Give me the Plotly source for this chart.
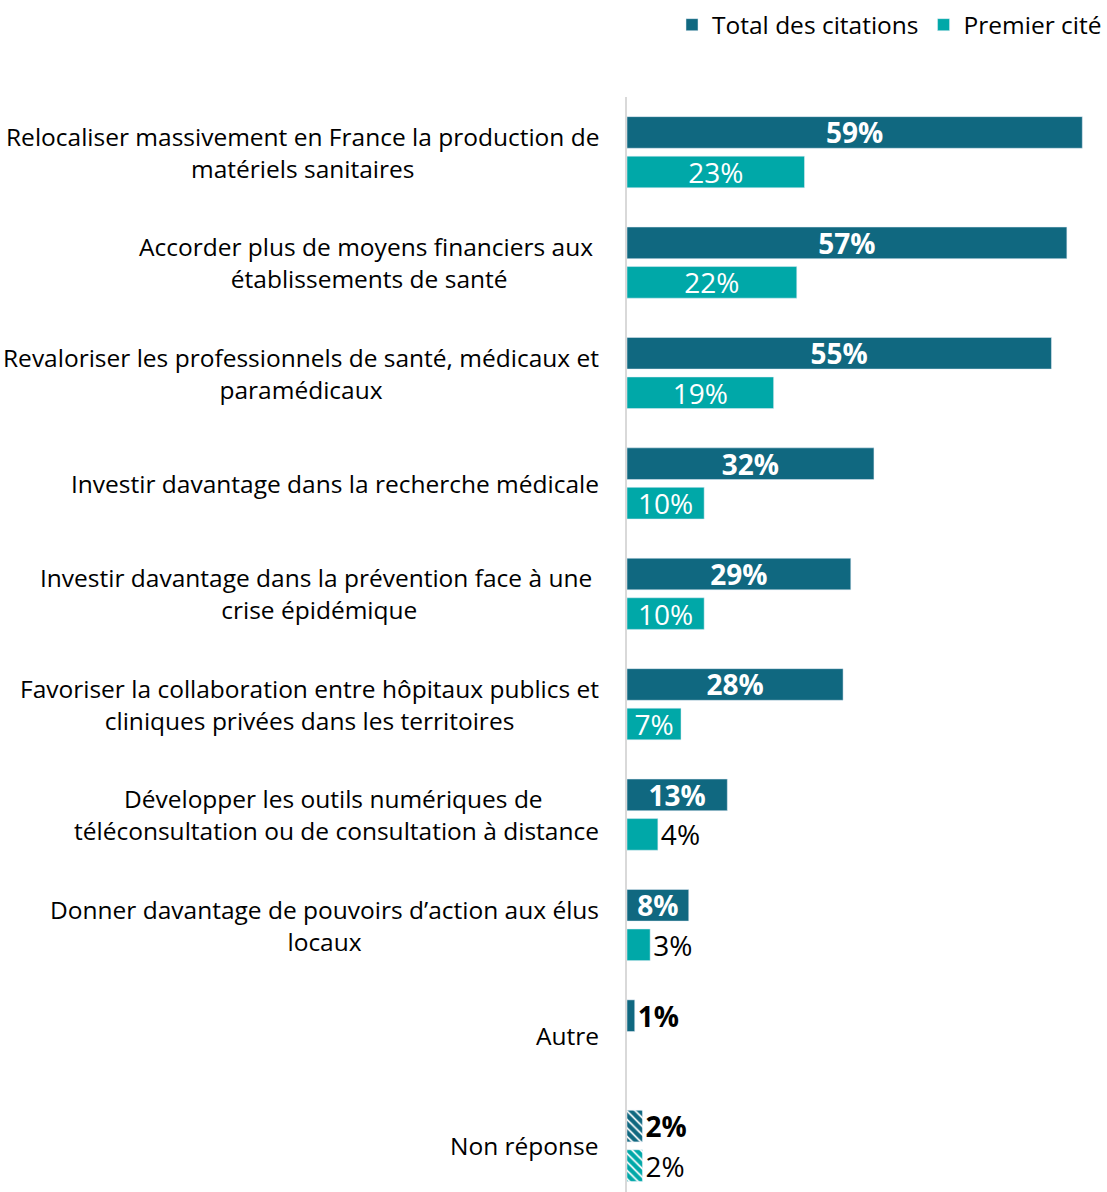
import plotly.graph_objects as go

categories = [
    "Relocaliser massivement en France la production de<br>matériels sanitaires",
    "Accorder plus de moyens financiers aux&nbsp;<br>établissements de santé",
    "Revaloriser les professionnels de santé, médicaux et<br>paramédicaux",
    "Investir davantage dans la recherche médicale",
    "Investir davantage dans la prévention face à une&nbsp;<br>crise épidémique",
    "Favoriser la collaboration entre hôpitaux publics et<br>cliniques privées dans les territoires",
    "Développer les outils numériques de&nbsp;<br>téléconsultation ou de consultation à distance",
    "Donner davantage de pouvoirs d’action aux élus<br>locaux",
    "Autre",
    "Non réponse",
]
total = [59, 57, 55, 32, 29, 28, 13, 8, 1, 2]
premier = [23, 22, 19, 10, 10, 7, 4, 3, None, 2]

C_TOTAL = "#106880"
C_PREM = "#00A8A8"
FONT = "Open Sans"

ids = list(range(len(categories)))
n = len(categories)

def pos(vals, thresh):
    return ["inside" if (v is not None and v >= thresh) else "outside" for v in vals]

def shapes(vals):
    return ["\\" if i == n - 1 else "" for i in range(len(vals))]

fig = go.Figure()
fig.add_trace(go.Bar(
    y=ids, x=total, orientation="h", name="Total des citations",
    marker=dict(color=C_TOTAL,
                pattern=dict(shape=shapes(total), fgcolor=C_TOTAL, bgcolor="white",
                             fgopacity=1, size=6, solidity=0.7)),
    text=[f"<b>{v}%</b>" for v in total],
    textposition=pos(total, 5),
    insidetextanchor="middle",
    insidetextfont=dict(color="white", size=28, family=FONT),
    outsidetextfont=dict(color="black", size=28, family=FONT),
    cliponaxis=False, constraintext="none",
))
fig.add_trace(go.Bar(
    y=ids, x=premier, orientation="h", name="Premier cité",
    marker=dict(color=C_PREM,
                pattern=dict(shape=shapes(premier), fgcolor=C_PREM, bgcolor="white",
                             fgopacity=1, size=6, solidity=0.7)),
    text=[(f"{v}%" if v is not None else "") for v in premier],
    textposition=pos(premier, 5),
    insidetextanchor="middle",
    insidetextfont=dict(color="white", size=28, family=FONT),
    outsidetextfont=dict(color="black", size=28, family=FONT),
    cliponaxis=False, constraintext="none",
))

for i, c in enumerate(categories):
    fig.add_annotation(
        xref="paper", yref="y", x=0, y=i, text=c, showarrow=False,
        xanchor="right", yanchor="middle", align="center", xshift=-26,
        font=dict(size=24.5, family=FONT, color="black"),
    )

fig.update_layout(
    width=1107, height=1192,
    margin=dict(l=627, r=0, t=97, b=0, autoexpand=False),
    barmode="group", bargap=0.284, bargroupgap=0.2,
    plot_bgcolor="white", paper_bgcolor="white",
    font=dict(family=FONT, size=24, color="black"),
    showlegend=True,
    legend=dict(orientation="h", x=1.0, xanchor="right", y=1.066, yanchor="middle",
                font=dict(size=24.5, family=FONT), itemwidth=30, traceorder="normal"),
    xaxis=dict(range=[0, 62.2], visible=False, fixedrange=True),
    yaxis=dict(range=[9.418, -0.5], showticklabels=False, showgrid=False, zeroline=False,
               showline=True, linecolor="#D9D9D9", linewidth=2, ticks=""),
)

fig.write_html("out.html", config={"displayModeBar": False},
               post_script="document.body.style.margin='0';document.body.style.overflow='hidden';")
